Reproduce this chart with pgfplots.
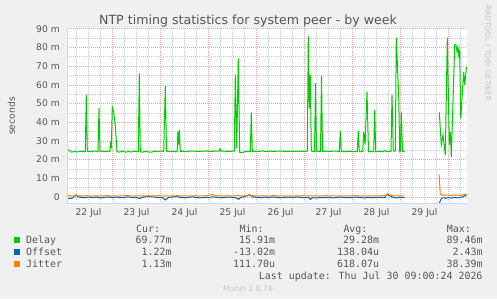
\documentclass[border=0pt]{standalone}
\usepackage{pgfplots}
\pgfplotsset{compat=1.18}
\usepackage{fontspec}
\setmainfont{DejaVu Sans}
\newfontfamily\monofont{DejaVu Sans Mono}
\usetikzlibrary{arrows.meta}
\definecolor{bg}{HTML}{F0F0F0}
\definecolor{txt}{HTML}{555555}
\definecolor{axiscol}{HTML}{CFD6F8}
\definecolor{dgreen}{HTML}{00CC00}
\definecolor{oblue}{HTML}{0066B3}
\definecolor{jorange}{HTML}{FF8000}
\definecolor{mgrid}{HTML}{F2A0A0}
\definecolor{ngrid}{HTML}{C8C8C8}
\definecolor{faint}{HTML}{C4C4C4}
\begin{document}
\begin{tikzpicture}[x=1bp,y=1bp]
\useasboundingbox (0,0) rectangle (497,299);
\fill[bg] (0,0) rectangle (497,299);
\begin{axis}[
  at={(67bp,95.5bp)}, anchor=south west,
  scale only axis, width=400bp, height=175bp,
  xmin=1.25, xmax=201.25, ymin=-3.5, ymax=90.2,
  axis background/.style={fill=white},
  axis line style={draw=none},
  tick style={draw=none},
  unbounded coords=jump,
  xtick={12,36,...,180},
  xticklabels={22 Jul,23 Jul,24 Jul,25 Jul,26 Jul,27 Jul,28 Jul,29 Jul},
  minor xtick={6,18,30,42,54,66,78,90,102,114,126,138,150,162,174,186,198},
  extra x ticks={24,48,...,192},
  extra x tick labels={},
  extra x tick style={grid=major, major x grid style={mgrid, line width=0.8bp, dash pattern=on 1bp off 1bp}},
  ytick={0,10,...,90},
  yticklabels={0\hspace{6bp},10 m,20 m,30 m,40 m,50 m,60 m,70 m,80 m,90 m},
  minor ytick={5,15,...,85},
  grid=both,
  major x grid style={ngrid, line width=0.8bp, dash pattern=on 1bp off 1bp},
  minor x grid style={ngrid, line width=0.8bp, dash pattern=on 1bp off 1bp},
  major y grid style={mgrid, line width=0.8bp, dash pattern=on 1bp off 1bp},
  minor y grid style={ngrid, line width=0.8bp, dash pattern=on 1bp off 1bp},
  ticklabel style={font=\fontsize{9.2bp}{11bp}\selectfont, text=txt},
  yticklabel style={anchor=east, inner sep=0pt, xshift=-7bp},
  xticklabel style={anchor=base, inner sep=0pt, yshift=-11.5bp},
]
% Delay
\addplot[dgreen, line width=1bp] coordinates {
(1.25,25.5)(2,25.2)(2.75,24.6)(3.5,24.0)(5,24.3)(6.5,24.1)(8,24.5)(9.5,24.2)
(10.4,24.4)(10.9,54.6)(11.4,24.5)(13,24.3)(15,24.6)(16.75,24.3)(17.25,47.4)(17.75,24.4)
(19,24.5)(20.5,24.3)(22,24.4)(22.75,24.5)(23.0,29.6)(23.4,26.0)(23.9,48.0)(24.6,45.5)
(25.4,38.0)(26.25,24.3)(27.5,24.0)(29,24.6)(30.5,24.0)(32,24.3)(33.5,24.1)(35,24.4)
(36.9,24.3)(37.4,66.2)(37.9,24.3)(39,24.0)(40.5,24.4)(42,24.1)(43.5,24.0)(45,24.5)
(46.5,24.3)(48,24.6)(49.6,24.4)(50.4,59.4)(51.0,24.5)(52.5,24.3)(54,24.4)(55.5,24.2)
(56.3,24.3)(56.75,35.0)(57.1,28.0)(57.4,36.0)(57.9,24.4)(59,24.5)(61,24.3)(63,24.6)
(65,24.5)(67,24.4)(69,24.5)(71,24.6)(73,24.4)(75,24.5)(77.25,24.5)(77.75,25.8)
(78.25,24.6)(80,24.5)(82,24.4)(84,24.5)(84.9,24.6)(85.4,65.6)(86.1,26.0)(86.9,74.2)
(87.6,23.9)(88.5,23.8)(89.5,24.0)(90.5,24.3)(92.9,24.4)(93.4,45.3)(93.9,24.3)(95,24.5)
(97,24.4)(99,24.6)(101,24.3)(103,24.5)(105,24.4)(107,24.6)(109,24.5)(111,24.4)
(113,24.5)(115,24.3)(117,24.5)(119,24.4)(121.4,24.5)(121.9,86.0)(122.4,47.4)(122.9,65.3)
(123.4,24.5)(125.0,24.4)(125.5,61.0)(126.0,24.5)(128.0,24.4)(128.5,64.9)(129.0,24.4)(131,24.5)
(133,24.4)(135,24.6)(137.4,24.4)(137.9,35.3)(138.4,24.3)(140,24.2)(142,24.4)(144,24.3)
(146.4,24.3)(146.9,35.3)(147.4,24.2)(149.1,24.4)(149.6,34.7)(150.3,28.0)(151.25,56.4)(152.0,24.2)
(153,24.3)(154.6,24.3)(155.1,46.5)(155.6,24.2)(157,24.3)(159,24.2)(160,24.9)(161,24.3)
(163.25,24.5)(163.75,54.6)(164.4,24.5)(165.4,24.6)(165.9,85.3)(167.1,54.0)(167.6,24.2)(167.9,24.4)
(168.4,45.6)(169.0,24.5)(170.1,24.2)(178,nan)
(187.4,45.3)(188.4,27.8)(189.25,33.2)(190.4,22.4)(191.4,85.3)(192.4,27.8)(192.9,34.7)(193.4,21.5)
(195.1,81.4)(195.75,81.4)(196.25,77.8)(196.75,80.0)(197.25,74.2)(197.6,79.0)(198.1,42.1)
(199.6,67.0)(200.1,60.0)(200.75,67.0)(201.0,69.77)
};
% Offset
\addplot[oblue, line width=1bp] coordinates {
(1.25,-0.2)(2,-0.6)(3,-0.9)(4,-0.5)(5,0.3)(5.75,1.2)(6.5,0.4)(8,-0.2)(10,-0.4)(12,-0.1)
(14,-0.3)(16,-0.1)(18,-0.5)(20,-0.2)(22,0.0)(24,-0.3)(26,-0.1)(28,-0.4)(30,-0.2)(32,0.1)
(34,-0.4)(36,-0.2)(37.5,-0.8)(39,-0.2)(41,0.2)(43,0.3)(45,-0.1)(47,-0.3)(49,-0.4)(50.5,-1.6)
(52,-0.3)(54,0.0)(56,0.2)(58,-0.2)(60,-0.4)(62,-0.2)(64,0.1)(66,-0.3)(68,-0.5)(70,-0.2)
(72,-0.3)(74,0.1)(76,-0.2)(78,-0.4)(80,-0.3)(82,0.0)(84,-0.2)(86,-0.6)(87,-1.3)(88,-0.3)
(90,0.2)(92.5,1.2)(94,0.1)(96,-0.2)(98,-0.4)(100,-0.1)(102,-0.3)(104,0.0)(106,-0.2)(108,-0.4)
(110,-0.2)(112,-0.1)(114,-0.3)(116,0.0)(118,-0.2)(120,-0.4)(122,-0.3)(123,-1.3)(124,-0.4)(126,-0.5)
(128,-0.3)(130,-0.4)(132,-0.2)(134,-0.5)(136,-0.3)(138,-0.1)(140,-0.3)(142,-0.4)(144,-0.2)(146,-0.1)
(148,-0.3)(150,-0.5)(152,-0.2)(154,-0.4)(156,-0.3)(158,-0.2)(160,-0.4)(161.5,1.5)(163,0.4)(164.5,-0.3)
(166,-0.5)(168,-0.3)(170.1,-0.4)(178,nan)
(187.4,-3.4)(188.4,-0.8)(189.5,-0.4)(190.5,-0.7)(192,-0.3)(193.5,-0.6)(195,-0.2)(196.5,-0.5)
(198,-0.2)(199.5,0.2)(200.5,0.8)(201,1.22)
};
% Jitter
\addplot[jorange, line width=1bp] coordinates {
(1.25,1.2)(2,0.8)(3,0.6)(5,0.5)(7,0.6)(9,0.5)(11,0.7)(13,0.5)(15,0.6)(17,0.5)
(19,0.6)(21,0.7)(23,0.5)(25,0.6)(27,0.5)(29,0.6)(31,0.7)(33,0.6)(35,0.5)(37,0.6)
(39,0.5)(41,0.6)(43,0.5)(45,0.6)(47,0.7)(49,0.5)(51,0.6)(53,0.5)(55,0.6)(57,0.7)
(59,0.5)(61,0.6)(63,0.5)(65,0.6)(67,0.5)(69,0.6)(71,0.7)(73,1.1)(74,1.4)(75,0.8)
(77,0.6)(79,0.5)(81,0.6)(83,0.5)(85,0.6)(87,0.7)(89,0.5)(91,0.6)(93,0.8)(95,0.6)
(97,0.5)(99,0.6)(101,0.5)(103,0.6)(105,0.7)(107,0.5)(109,0.6)(111,0.5)(113,0.6)(115,0.5)
(117,0.6)(119,0.7)(121,0.6)(123,0.5)(125,0.6)(127,0.5)(129,0.6)(131,0.7)(133,0.5)(135,0.6)
(137,0.5)(139,0.6)(141,0.5)(143,0.6)(145,0.7)(147,0.5)(149,0.6)(151,0.5)(153,0.6)(155,0.5)
(157,0.6)(159,0.7)(161,0.9)(162.75,1.2)(164,0.7)(166,0.6)(168,0.5)(170.1,0.6)(178,nan)
(187.3,12.1)(187.9,1.5)(189,0.9)(191,1.0)(193,0.8)(195,1.1)(197,0.9)(199,1.0)(200,1.5)(201,1.13)
};
\draw[axiscol, line width=1bp, -{Triangle[width=6bp,length=5bp]}] ([yshift=-4bp]rel axis cs:0,0) -- ([yshift=6.5bp]rel axis cs:0,1);
\draw[axiscol, line width=1bp, -{Triangle[width=6bp,length=5bp]}] ([xshift=-4bp]rel axis cs:0,0) -- ([xshift=6bp]rel axis cs:1,0);
\end{axis}
% title and labels
\node[anchor=base, text=txt, font=\fontsize{12.6bp}{15bp}\selectfont, inner sep=0pt] at (248,275) {NTP timing statistics for system peer - by week};
\node[rotate=90, text=txt, font=\fontsize{9.2bp}{11bp}\selectfont, inner sep=0pt] at (11.5,183) {seconds};
\node[rotate=-90, anchor=west, text=faint, font=\fontsize{7.5bp}{9bp}\selectfont, inner sep=0pt] at (487.7,294) {RRDTOOL / TOBI OETIKER};
% legend
\begin{scope}[every node/.style={inner sep=0pt, text=txt, font=\monofont\fontsize{9.95bp}{12bp}\selectfont}]
\node[anchor=base west] at (136,67) {Cur:};
\node[anchor=base west] at (239.4,67) {Min:};
\node[anchor=base west] at (343.3,67) {Avg:};
\node[anchor=base west] at (446.7,67) {Max:};
\fill[dgreen] (14,56) rectangle (20,62);
\fill[oblue] (14,44) rectangle (20,50);
\fill[jorange] (14,32.2) rectangle (20,38.2);
\node[anchor=base west] at (26,55.5) {Delay};
\node[anchor=base west] at (26,43.6) {Offset};
\node[anchor=base west] at (26,31.8) {Jitter};
\node[anchor=base east] at (171.7,55.5) {69.77m};
\node[anchor=base east] at (275.3,55.5) {15.91m};
\node[anchor=base east] at (379.3,55.5) {29.28m};
\node[anchor=base east] at (482.7,55.5) {89.46m};
\node[anchor=base east] at (171.7,43.6) {1.22m};
\node[anchor=base east] at (275.3,43.6) {-13.02m};
\node[anchor=base east] at (379.3,43.6) {138.04u};
\node[anchor=base east] at (482.7,43.6) {2.43m};
\node[anchor=base east] at (171.7,31.8) {1.13m};
\node[anchor=base east] at (275.3,31.8) {111.70u};
\node[anchor=base east] at (379.3,31.8) {618.07u};
\node[anchor=base east] at (482.7,31.8) {38.39m};
\node[anchor=base east] at (482.7,20) {Last update: Thu Jul 30 09:00:24 2026};
\end{scope}
\node[anchor=base, text=faint, font=\fontsize{7.6bp}{9bp}\selectfont, inner sep=0pt] at (248,7.5) {Munin 2.0.76};
\end{tikzpicture}
\end{document}
